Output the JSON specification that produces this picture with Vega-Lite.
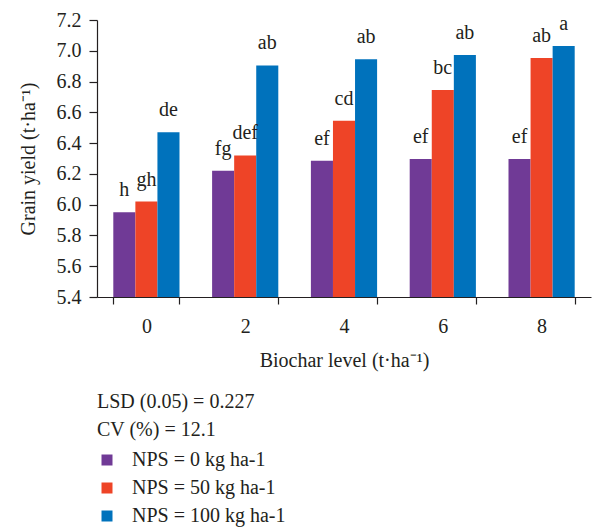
{
  "$schema": "https://vega.github.io/schema/vega-lite/v6.json",
  "autosize": "none",
  "width": 494,
  "height": 277,
  "padding": {"left": 97, "top": 20, "right": 3, "bottom": 231},
  "background": "white",
  "config": {
    "font": "Liberation Serif",
    "view": {"stroke": null},
    "axis": {"labelFont": "Liberation Serif", "titleFont": "Liberation Serif", "labelFontSize": 20, "titleFontSize": 20, "titleFontWeight": "normal", "labelColor": "#231f20", "titleColor": "#231f20", "domainColor": "#231f20", "tickColor": "#231f20", "grid": false}
  },
  "data": {
    "values": [
      {"level": "0", "nps": "NPS = 0 kg ha-1", "yield": 5.95, "letter": "h"},
      {"level": "0", "nps": "NPS = 50 kg ha-1", "yield": 6.02, "letter": "gh"},
      {"level": "0", "nps": "NPS = 100 kg ha-1", "yield": 6.47, "letter": "de"},
      {"level": "2", "nps": "NPS = 0 kg ha-1", "yield": 6.22, "letter": "fg"},
      {"level": "2", "nps": "NPS = 50 kg ha-1", "yield": 6.32, "letter": "def"},
      {"level": "2", "nps": "NPS = 100 kg ha-1", "yield": 6.905, "letter": "ab"},
      {"level": "4", "nps": "NPS = 0 kg ha-1", "yield": 6.285, "letter": "ef"},
      {"level": "4", "nps": "NPS = 50 kg ha-1", "yield": 6.545, "letter": "cd"},
      {"level": "4", "nps": "NPS = 100 kg ha-1", "yield": 6.945, "letter": "ab"},
      {"level": "6", "nps": "NPS = 0 kg ha-1", "yield": 6.297, "letter": "ef"},
      {"level": "6", "nps": "NPS = 50 kg ha-1", "yield": 6.745, "letter": "bc"},
      {"level": "6", "nps": "NPS = 100 kg ha-1", "yield": 6.972, "letter": "ab"},
      {"level": "8", "nps": "NPS = 0 kg ha-1", "yield": 6.297, "letter": "ef"},
      {"level": "8", "nps": "NPS = 50 kg ha-1", "yield": 6.953, "letter": "ab"},
      {"level": "8", "nps": "NPS = 100 kg ha-1", "yield": 7.031, "letter": "a"}
    ]
  },
  "encoding": {
    "x": {
      "field": "level", "type": "nominal", "sort": ["0", "2", "4", "6", "8"],
      "scale": {"paddingInner": 0.33, "paddingOuter": 0.165},
      "axis": {"title": "Biochar level (t·ha⁻¹)", "labelAngle": 0, "tickBand": "extent", "tickSize": 7, "labelPadding": 12, "titlePadding": 14, "domainWidth": 1.2, "tickWidth": 1.2}
    },
    "xOffset": {"field": "nps", "type": "nominal", "sort": ["NPS = 0 kg ha-1", "NPS = 50 kg ha-1", "NPS = 100 kg ha-1"], "scale": {"paddingInner": 0, "paddingOuter": 0}},
    "y": {
      "field": "yield", "type": "quantitative",
      "scale": {"domain": [5.4, 7.2], "zero": false, "nice": false},
      "axis": {"title": "Grain yield (t·ha⁻¹)", "values": [5.4, 5.6, 5.8, 6.0, 6.2, 6.4, 6.6, 6.8, 7.0, 7.2], "format": ".1f", "tickSize": 8, "labelPadding": 8, "titlePadding": 18, "domainWidth": 1.2, "tickWidth": 1.2}
    }
  },
  "layer": [
    {
      "mark": {"type": "bar"},
      "encoding": {
        "y2": {"datum": 5.4},
        "color": {
          "field": "nps", "type": "nominal",
          "sort": ["NPS = 0 kg ha-1", "NPS = 50 kg ha-1", "NPS = 100 kg ha-1"],
          "scale": {"domain": ["NPS = 0 kg ha-1", "NPS = 50 kg ha-1", "NPS = 100 kg ha-1"], "range": ["#703A96", "#EE4427", "#0072BC"]},
          "legend": {
            "title": ["LSD (0.05) = 0.227", "CV (%) = 12.1"],
            "orient": "none", "legendX": 0, "legendY": 372,
            "titleFont": "Liberation Serif", "titleFontSize": 20, "titleFontWeight": "normal", "titleColor": "#231f20", "titleLineHeight": 28, "titlePadding": 10,
            "labelFont": "Liberation Serif", "labelFontSize": 20, "labelColor": "#231f20", "labelOffset": 15,
            "symbolType": "square", "symbolSize": 121, "symbolStrokeWidth": 0, "rowPadding": 8, "padding": 0
          }
        }
      }
    },
    {
      "mark": {"type": "text", "baseline": "alphabetic", "dy": -16, "fontSize": 20, "font": "Liberation Serif", "color": "#231f20"},
      "encoding": {"text": {"field": "letter"}}
    }
  ]
}
